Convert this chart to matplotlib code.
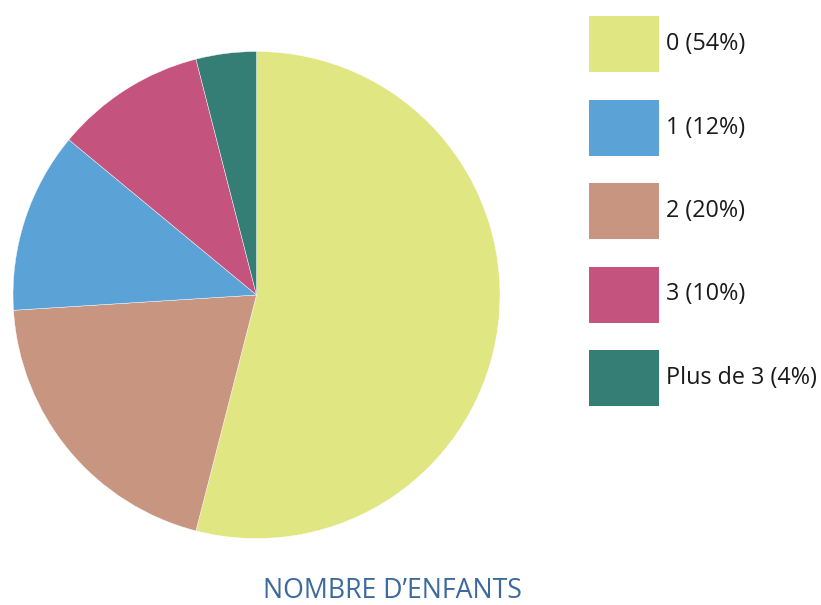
import matplotlib
matplotlib.use("Agg")
import matplotlib.pyplot as plt
from matplotlib.patches import Rectangle

# Data (legend order)
categories = ["0", "1", "2", "3", "Plus de 3"]
values = [54, 12, 20, 10, 4]
colors = ["#e0e681", "#5ba3d7", "#c89580", "#c4547d", "#357e75"]
legend_labels = ["0 (54%)", "1 (12%)", "2 (20%)", "3 (10%)", "Plus de 3 (4%)"]
title = "NOMBRE D\u2019ENFANTS"

# Pie is drawn clockwise from 12 o'clock in this order
pie_order = [0, 2, 1, 3, 4]

W, H = 821, 605
fig = plt.figure(figsize=(W / 100, H / 100), dpi=100)
ax = fig.add_axes([0, 0, 1, 1])
ax.set_xlim(0, W)
ax.set_ylim(0, H)
ax.set_aspect("equal")
ax.axis("off")

plt.rcParams["font.family"] = ["Open Sans", "DejaVu Sans"]

ax.pie([values[i] for i in pie_order],
       colors=[colors[i] for i in pie_order],
       startangle=90, counterclock=False,
       center=(256.5, H - 295), radius=243.5,
       wedgeprops=dict(linewidth=0.3, edgecolor="white"),
       frame=True)
ax.set_xlim(0, W)
ax.set_ylim(0, H)
ax.axis("off")

# Legend
for k, (lab, col) in enumerate(zip(legend_labels, colors)):
    top = 16 + k * 83.5
    ax.add_patch(Rectangle((589, H - top - 56), 70, 56, facecolor=col, edgecolor="none"))
    ax.text(666, H - top - 28, lab, fontsize=16.8, color="#1a1a1a",
            va="center", ha="left", family=["Open Sans", "DejaVu Sans"])

ax.text(392, H - 591, title, fontsize=19.2, color="#3d6a9d",
        ha="center", va="center", family=["Open Sans", "DejaVu Sans"])

fig.savefig("out.png", dpi=100)
